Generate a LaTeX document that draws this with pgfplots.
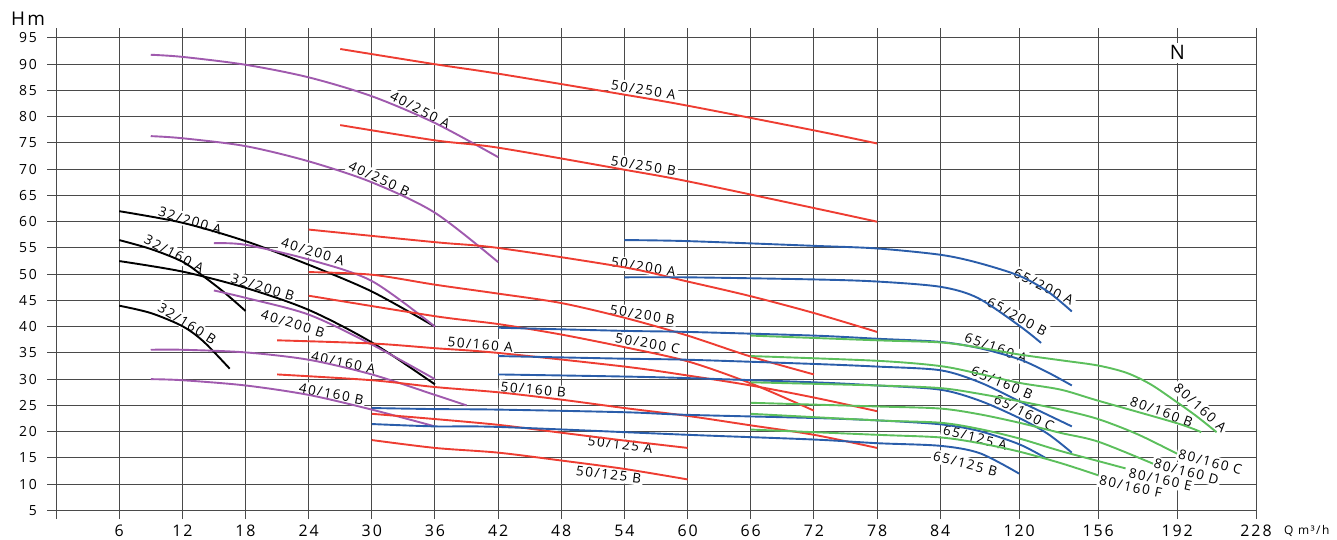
\documentclass[border=0pt]{standalone}
\usepackage{fontspec}
\setmainfont{Open Sans}
\newfontfamily\lab[LetterSpace=12]{Open Sans}
\usepackage{pgfplots}
\pgfplotsset{compat=1.18}
\definecolor{cred}{HTML}{EE3D32}
\definecolor{cblue}{HTML}{2A5DAA}
\definecolor{cgreen}{HTML}{5CBF5C}
\definecolor{cpurple}{HTML}{A05AAE}
\definecolor{cgrid}{HTML}{4A4A4A}
\tikzset{lbl/.style={font=\fontsize{13.5}{13.5}\lab, fill=white, inner sep=2bp}}
\begin{document}
\begin{tikzpicture}
\path[use as bounding box] (-47bp,-21bp) rectangle (1290bp,519bp);
\begin{axis}[
  at={(0,0)}, anchor=south west,
  scale only axis, width=1209bp, height=491bp,
  xmin=-0.856, xmax=228, ymin=3.36, ymax=96.9,
  % Q axis: 6 m3/h per cell up to 84, then 36 m3/h per wider cell
  x coord trafo/.code={\pgfmathparse{#1<=84 ? #1/6 : 14+(#1-84)/28.8}},
  x coord inv trafo/.code={\pgfmathparse{#1<=14 ? #1*6 : 84+(#1-14)*28.8}},
  xtick={0,6,12,18,24,30,36,42,48,54,60,66,72,78,84,120,156,192,228},
  xticklabels={,6,12,18,24,30,36,42,48,54,60,66,72,78,84,120,156,192,228},
  ytick={5,10,...,95},
  grid=major,
  grid style={cgrid, line width=1bp},
  major tick length=0pt,
  axis line style={draw=none},
  clip=false,
  /pgf/number format/assume math mode=true,
  xticklabel style={font=\fontsize{16}{16}\lab, inner sep=0pt, anchor=north, yshift=-6bp},
  yticklabel style={font=\fontsize{14}{14}\lab, inner sep=0pt, anchor=east, xshift=-10bp},
  every axis plot/.append style={line width=1.9bp, smooth},
]
% curve names, drawn first so the curves lie on top of their white boxes
\node[lbl, rotate=-17] at (axis cs:12.74,60.2) {32/200 A};
\node[lbl, rotate=-28] at (axis cs:11.22,53.9) {32/160 A};
\node[lbl, rotate=-17] at (axis cs:19.63,47.5) {32/200 B};
\node[lbl, rotate=-32] at (axis cs:12.46,40.6) {32/160 B};
\node[lbl, rotate=-27] at (axis cs:34.6,81.3) {40/250 A};
\node[lbl, rotate=-25] at (axis cs:30.7,68.2) {40/250 B};
\node[lbl, rotate=-17] at (axis cs:24.4,54.3) {40/200 A};
\node[lbl, rotate=-17] at (axis cs:22.5,40.6) {40/200 B};
\node[lbl, rotate=-12] at (axis cs:27.3,33.1) {40/160 A};
\node[lbl, rotate=-11] at (axis cs:26.15,27.2) {40/160 B};
\node[lbl, rotate=-9] at (axis cs:55.8,85.1) {50/250 A};
\node[lbl, rotate=-9] at (axis cs:55.8,70.7) {50/250 B};
\node[lbl, rotate=-9] at (axis cs:55.8,51.4) {50/200 A};
\node[lbl, rotate=-9] at (axis cs:55.7,42.3) {50/200 B};
\node[lbl, rotate=-10] at (axis cs:56.2,36.8) {50/200 C};
\node[lbl, rotate=-5] at (axis cs:40.3,36.6) {50/160 A};
\node[lbl, rotate=-6] at (axis cs:45.35,28.0) {50/160 B};
\node[lbl, rotate=-7] at (axis cs:53.6,17.5) {50/125 A};
\node[lbl, rotate=-7] at (axis cs:52.5,11.8) {50/125 B};
\node[lbl, rotate=-27] at (axis cs:131.2,47.6) {65/200 A};
\node[lbl, rotate=-28] at (axis cs:119.0,41.9) {65/200 B};
\node[lbl, rotate=-20] at (axis cs:109.4,36.0) {65/160 A};
\node[lbl, rotate=-23] at (axis cs:112.2,29.3) {65/160 B};
\node[lbl, rotate=-27] at (axis cs:122.2,23.6) {65/160 C};
\node[lbl, rotate=-14] at (axis cs:99.9,18.85) {65/125 A};
\node[lbl, rotate=-14] at (axis cs:95.4,13.9) {65/125 B};
\node[lbl, rotate=-42] at (axis cs:202.6,24.6) {80/160 A};
\node[lbl, rotate=-20] at (axis cs:184.9,23.8) {80/160 B};
\node[lbl, rotate=-15] at (axis cs:207.1,14.2) {80/160 C};
\node[lbl, rotate=-15] at (axis cs:196.2,12.4) {80/160 D};
\node[lbl, rotate=-12] at (axis cs:184.4,10.85) {80/160 E};
\node[lbl, rotate=-12] at (axis cs:170.8,9.5) {80/160 F};
\node[font=\fontsize{20}{20}\lab, fill=white, inner sep=3bp] at (axis cs:192.1,92.2) {N};

% 32/...
\addplot[black] coordinates {(6,62) (12,59.8) (18,56.3) (24,51.8) (30,46.7) (36,40)};
\addplot[black] coordinates {(6,56.5) (9,54.8) (12,52.4) (14,49.6) (16,46.5) (18,43)};
\addplot[black] coordinates {(6,52.5) (12,50.5) (18,47.4) (24,43.2) (30,37) (36,29)};
\addplot[black] coordinates {(6,44) (9,42.6) (12,40.1) (14,37.2) (16.5,32)};
% 40/...
\addplot[cpurple] coordinates {(9,91.8) (12,91.4) (18,89.9) (24,87.5) (30,83.9) (36,78.8) (42,72.3)};
\addplot[cpurple] coordinates {(9,76.3) (12,75.9) (18,74.4) (24,71.5) (30,67.5) (36,61.7) (42,52.3)};
\addplot[cpurple] coordinates {(15,55.9) (18,55.6) (24,52.8) (30,48.7) (36,40)};
\addplot[cpurple] coordinates {(15,46.9) (18,45.5) (24,42.3) (30,36.6) (36,30)};
\addplot[cpurple] coordinates {(9,35.6) (12,35.6) (18,35.1) (24,33.7) (30,30.9) (36,27) (39,25)};
\addplot[cpurple] coordinates {(9,30) (12,29.8) (18,28.8) (24,27) (30,24.2) (36,21)};
% 50/...
\addplot[cred] coordinates {(27,92.9) (36,90) (42,88.2) (54,84.2) (60,82.1) (72,77.4) (78,74.9)};
\addplot[cred] coordinates {(27,78.4) (36,75.5) (42,74.1) (54,69.9) (60,67.7) (72,62.6) (78,60)};
\addplot[cred] coordinates {(24,58.5) (36,56.1) (42,55) (54,51.3) (60,48.6) (66,45.8) (72,42.6) (78,39)};
\addplot[cred] coordinates {(24,50.4) (30,49.9) (36,48) (42,46.3) (48,44.5) (54,41.7) (60,38.3) (66,34.3) (72,30.9)};
\addplot[cred] coordinates {(24,45.9) (36,42) (42,40.5) (48,38.5) (54,36.1) (60,33.4) (66,29.2) (72,24)};
\addplot[cred] coordinates {(21,37.4) (30,36.8) (36,35.9) (42,35) (54,32.4) (60,30.7) (66,28.8) (72,26.5) (78,23.9)};
\addplot[cred] coordinates {(21,30.9) (30,29.8) (36,28.5) (42,27.5) (48,26.1) (54,24.5) (60,23) (66,21.2) (72,19.4) (78,16.9)};
\addplot[cred] coordinates {(30,23.4) (36,22.4) (42,21.3) (48,19.8) (54,18.3) (60,16.9)};
\addplot[cred] coordinates {(30,18.4) (36,16.9) (42,16) (48,14.5) (54,12.9) (60,10.9)};
% 65/...
\addplot[cblue] coordinates {(54,56.5) (60,56.3) (72,55.4) (78,54.9) (84,53.7) (101,52.2) (120,49.7) (133,46.7) (144,42.9)};
\addplot[cblue] coordinates {(54,49.4) (60,49.4) (72,49) (78,48.6) (84,47.6) (101,45.5) (120,40.2) (130,36.9)};
\addplot[cblue] coordinates {(42,39.8) (54,39.2) (60,39) (72,38.3) (78,37.7) (84,37.1) (102,35.9) (120,33.8) (133,31.3) (144,28.8)};
\addplot[cblue] coordinates {(42,34.4) (54,33.9) (60,33.7) (72,32.9) (78,32.4) (84,31.7) (102,29.4) (120,25.8) (133,23.2) (144,21)};
\addplot[cblue] coordinates {(42,30.9) (54,30.5) (60,30.2) (72,29.4) (78,28.8) (84,28) (102,25.9) (120,22.6) (133,19.6) (144,16)};
\addplot[cblue] coordinates {(30,24.5) (36,24.3) (42,24.2) (54,23.7) (60,23.2) (72,22.6) (78,22.15) (84,21.4) (102,20.1) (120,17.6) (132,15)};
\addplot[cblue] coordinates {(30,21.45) (36,21) (42,20.9) (60,19.4) (72,18.5) (78,17.8) (84,17.3) (102,15.9) (120,12)};
% 80/160 ...
\addplot[cgreen] coordinates {(66,38.3) (78,37.4) (84,37) (102,36) (120,34.7) (139,33.6) (156,32.6) (169,31.2) (180,29) (192,25.6) (201,22.9) (210,19.9)};
\addplot[cgreen] coordinates {(66,34.4) (78,33.5) (84,32.5) (102,31) (120,29.3) (139,28) (156,25.9) (192,21.6) (203,19.9)};
\addplot[cgreen] coordinates {(66,29.4) (78,28.8) (84,28.3) (102,27.2) (120,25.8) (139,24.2) (156,22.4) (174,19.5) (192,15.8)};
\addplot[cgreen] coordinates {(66,25.5) (78,24.8) (84,24.4) (102,23.3) (120,21.7) (139,19.75) (156,18.1) (181,13.9)};
\addplot[cgreen] coordinates {(66,23.4) (78,22.15) (84,21.7) (102,20.5) (120,18.7) (139,16.3) (156,14.4) (168.5,13)};
\addplot[cgreen] coordinates {(66,20.4) (78,19.4) (84,18.9) (102,17.8) (120,16.2) (139,14) (156,11.7)};
\end{axis}
\node[font=\fontsize{19}{19}\lab, inner sep=0pt] at (-19bp,500bp) {Hm};
\node[font=\fontsize{12}{12}\lab, inner sep=0pt, anchor=west] at (1237bp,-12bp) {Q m³/h};
\end{tikzpicture}
\end{document}
